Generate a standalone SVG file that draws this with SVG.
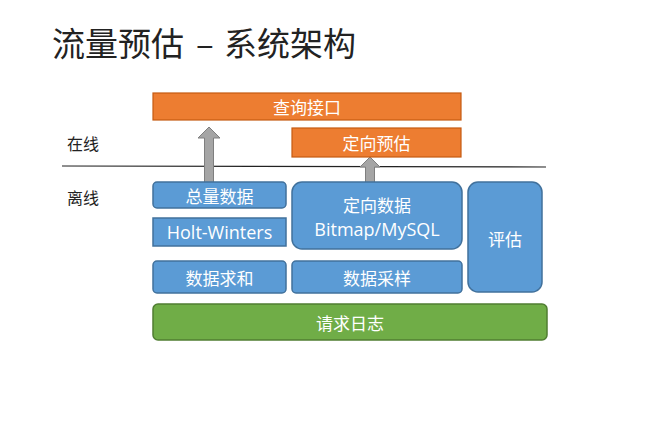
<svg xmlns="http://www.w3.org/2000/svg" width="671" height="428" viewBox="0 0 671 428">
<style>
text{font-family:"Noto Sans CJK SC","Noto Sans",sans-serif}
.lbl{fill:#fff;font-size:17px;text-anchor:middle;dominant-baseline:central}
.lat{font-family:"Open Sans","Noto Sans",sans-serif;font-size:18px}
.org{fill:#ED7D31;stroke:#C55A11;stroke-width:1.2}
.blu{fill:#5B9BD5;stroke:#41719C;stroke-width:1.5}
.grn{fill:#70AD47;stroke:#507E32;stroke-width:1.5}
.arr{fill:#A5A5A5;stroke:#7F7F7F;stroke-width:1}
.side{fill:#222;font-size:16px}
</style>
<rect width="671" height="428" fill="#fff"/>
<text x="52" y="56" font-size="33" fill="#222">流量预估<tspan x="196">–</tspan><tspan x="224">系统架构</tspan></text>
<text class="side" x="67" y="150">在线</text>
<text class="side" x="67" y="204">离线</text>
<line x1="62" y1="166" x2="546" y2="167" stroke="#222" stroke-width="1.2"/>
<g id="connectors">
<path class="arr" d="M204.5,183 V138 H198 L209,127 L220,138 H213.5 V183 Z"/>
<path class="arr" d="M365.5,183 V167 H360 L370,157 L380,167 H374.5 V183 Z"/>
</g>
<g id="n-query"><rect class="org" x="153" y="93" width="308" height="27"/><text class="lbl" x="307" y="106.5">查询接口</text></g>
<g id="n-dxyg"><rect class="org" x="292" y="128" width="169" height="29"/><text class="lbl" x="376.5" y="142.5">定向预估</text></g>
<g id="n-zlsj"><rect class="blu" x="153" y="182" width="133" height="26" rx="4"/><text class="lbl" x="219.5" y="195">总量数据</text></g>
<g id="n-hw"><rect class="blu" x="153" y="218" width="133" height="28"/><text class="lbl lat" x="219.5" y="232">Holt-Winters</text></g>
<g id="n-sjqh"><rect class="blu" x="153" y="261" width="133" height="32" rx="4"/><text class="lbl" x="219.5" y="277">数据求和</text></g>
<g id="n-dxsj"><rect class="blu" x="292" y="182" width="170" height="67" rx="10"/><text class="lbl" x="377" y="204" font-size="16">定向数据</text><text class="lbl lat" x="377" y="229" font-size="17">Bitmap/MySQL</text></g>
<g id="n-sjcy"><rect class="blu" x="292" y="261" width="170" height="32" rx="4"/><text class="lbl" x="377" y="277">数据采样</text></g>
<g id="n-pg"><rect class="blu" x="468" y="182" width="74" height="110" rx="10"/><text class="lbl" x="505" y="238">评估</text></g>
<g id="n-qqrz"><rect class="grn" x="153" y="304" width="394" height="36" rx="5"/><text class="lbl" x="350" y="322">请求日志</text></g>
</svg>
